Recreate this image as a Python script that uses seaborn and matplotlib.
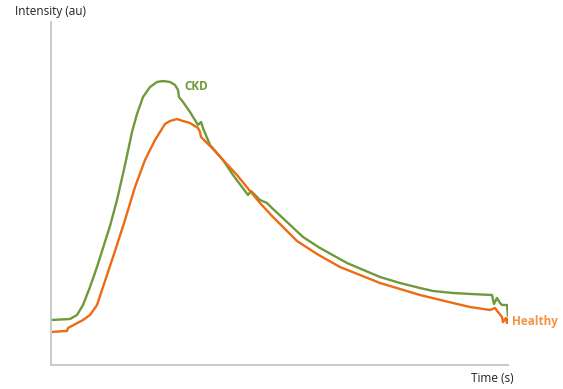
import numpy as np
import pandas as pd
import matplotlib
matplotlib.use("Agg")
import matplotlib.pyplot as plt
import seaborn as sns

# values (arbitrary units)
ckd_t = [0, 19, 26, 32, 39, 46, 52, 59, 66, 74, 81, 86, 92, 99, 106, 112, 119, 124, 127,
         128, 132, 139, 147, 150, 152, 159, 172, 182, 197, 200, 209, 216, 221, 236, 252,
         269, 296, 329, 349, 369, 382, 402, 420, 441, 443, 446, 449, 451, 456, 457]
ckd_i = [45, 46, 50, 60, 78, 98, 117, 139, 165, 200, 233, 251, 268, 278, 283, 284, 283, 280, 275,
         268, 263, 253, 240, 243, 237, 220, 205, 190, 170, 174, 165, 162, 157, 143, 128,
         117, 102, 88, 82, 77, 74, 72, 71, 70, 61, 67, 62, 60, 60, 49]

healthy_t = [0, 14, 16, 17, 32, 39, 46, 54, 64, 74, 84, 94, 104, 114, 119, 126, 132, 139, 147,
             149, 150, 162, 172, 186, 199, 209, 222, 246, 266, 289, 309, 329, 349, 369,
             402, 419, 439, 444, 447, 451, 452, 455, 456, 457]
healthy_i = [33, 34, 34, 37, 45, 50, 60, 84, 114, 145, 178, 205, 225, 241, 244, 246, 244, 242, 237,
             233, 228, 216, 205, 190, 174, 162, 148, 124, 111, 98, 90, 82, 76, 70,
             62, 58, 55, 57, 53, 48, 43, 47, 42, 46]

green = "#6e9a3b"
orange = "#ee6b12"

df = pd.concat([
    pd.DataFrame({"time": ckd_t, "intensity": ckd_i, "group": "CKD"}),
    pd.DataFrame({"time": healthy_t, "intensity": healthy_i, "group": "Healthy"}),
])

sns.set_style("white")
W, H = 563, 389
fig = plt.figure(figsize=(W / 100, H / 100), dpi=100)
ax = fig.add_axes([51 / W, 24 / H, 457 / W, 343 / H])

sns.lineplot(data=df, x="time", y="intensity", hue="group",
             palette={"CKD": green, "Healthy": orange}, estimator=None,
             sort=False, linewidth=1.7, legend=False, ax=ax)

ax.set_xlim(0, 457)
ax.set_ylim(0, 343)
ax.set_xticks([])
ax.set_yticks([])
ax.set_xlabel("")
ax.set_ylabel("")
for s in ["top", "right"]:
    ax.spines[s].set_visible(False)
for s in ["left", "bottom"]:
    ax.spines[s].set_color("#c9c9c9")
    ax.spines[s].set_linewidth(1.4)

font = ["Open Sans", "DejaVu Sans"]
fig.text(15 / W, 1 - 12 / H, "Intensity (au)", family=font, fontsize=8.5,
         color="#222222", va="center", ha="left")
fig.text(514 / W, 1 - 378 / H, "Time (s)", family=font, fontsize=8.5,
         color="#222222", va="center", ha="right")
fig.text(184 / W, 1 - 87 / H, "CKD", family=font, fontsize=8.5, fontweight="bold",
         color=green, va="center", ha="left")
fig.text(512 / W, 1 - 321 / H, "Healthy", family=font, fontsize=8.5, fontweight="bold",
         color="#f39548", va="center", ha="left")

fig.savefig("out.png", dpi=100)
